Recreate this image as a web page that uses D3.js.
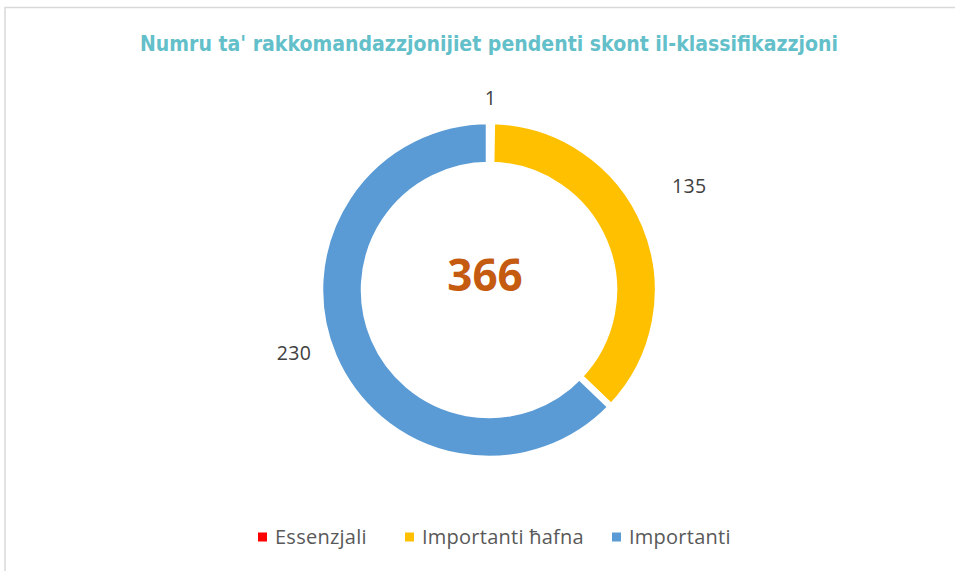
<!DOCTYPE html>
<html>
<head>
<meta charset="utf-8">
<script src="https://cdn.jsdelivr.net/npm/d3@7"></script>
<style>
  html, body { margin: 0; padding: 0; background: #fff; }
  svg { display: block; }
</style>
</head>
<body>
<div id="chart"></div>
<script>
'use strict';

// data
var categories = ["Essenzjali", "Importanti ħafna", "Importanti"];
var values = [1, 135, 230];
var colors = ["#ff0000", "#ffc000", "#5b9bd5"];
var title = "Numru ta' rakkomandazzjonijiet pendenti skont il-klassifikazzjoni";

// label placement (radius from centre per slice)
var labelR = [172, 217, 212];

var width = 955, height = 571;
var cx = 489, cy = 290;
var outerR = 169, innerR = 125;

var svg = d3.select("#chart").append("svg")
  .attr("width", width)
  .attr("height", height);

//frame
svg.append("path")
  .attr("d", "M5," + height + "V7.5H" + width)
  .attr("fill", "none")
  .attr("stroke", "#d9d9d9")
  .attr("stroke-width", 1.5);

//title
svg.append("text")
  .attr("x", 489)
  .attr("y", 51)
  .attr("text-anchor", "middle")
  .attr("font-family", "'Liberation Sans Narrow', 'DejaVu Sans Condensed', sans-serif")
  .attr("font-weight", "bold")
  .attr("font-size", 22)
  .attr("fill", "#63bfc9")
  .attr("textLength", 698)
  .attr("lengthAdjust", "spacingAndGlyphs")
  .text(title);

var pie = d3.pie().sort(null).value(function(d){ return d; });
var arc = d3.arc().innerRadius(innerR).outerRadius(outerR);
var arcs = pie(values);

var g = svg.append("g").attr("transform", "translate(" + cx + "," + cy + ")");

g.selectAll("path.slice")
  .data(arcs)
  .enter()
  .append("path")
  .attr("class", "slice")
  .attr("d", arc)
  .attr("fill", function(d, i){ return colors[i]; })
  .attr("stroke", "#fff")
  .attr("stroke-width", 6.5)
  .attr("stroke-linejoin", "miter");

//value labels
g.selectAll("text.lbl")
  .data(arcs)
  .enter()
  .append("text")
  .attr("class", "lbl")
  .attr("x", function(d, i){
    var a = (d.startAngle + d.endAngle) / 2;
    return labelR[i] * Math.sin(a);
  })
  .attr("y", function(d, i){
    var a = (d.startAngle + d.endAngle) / 2;
    return -labelR[i] * Math.cos(a) - 20;
  })
  .attr("dy", "0.35em")
  .attr("text-anchor", "middle")
  .attr("font-family", "'Open Sans', sans-serif")
  .attr("font-size", 19.5)
  .attr("letter-spacing", 0.4)
  .attr("fill", "#404040")
  .text(function(d){ return d.data; });

//total in the middle
g.append("text")
  .attr("x", -4)
  .attr("y", -14)
  .attr("dy", "0.35em")
  .attr("text-anchor", "middle")
  .attr("font-family", "'Open Sans', sans-serif")
  .attr("font-weight", "bold")
  .attr("font-size", 44)
  .attr("fill", "#c55a11")
  .text(d3.sum(values));

//legend
var legendX = [258, 405, 612];
var legend = svg.append("g").selectAll("g")
  .data(categories)
  .enter()
  .append("g")
  .attr("transform", function(d, i){ return "translate(" + legendX[i] + ",537)"; });

legend.append("rect")
  .attr("x", 0)
  .attr("y", -4.5)
  .attr("width", 9)
  .attr("height", 9)
  .attr("fill", function(d, i){ return colors[i]; });

legend.append("text")
  .attr("x", 17)
  .attr("dy", "0.35em")
  .attr("font-family", "'Open Sans', sans-serif")
  .attr("font-size", 20)
  .attr("letter-spacing", 0.25)
  .attr("fill", "#595959")
  .text(function(d){ return d; });
</script>
</body>
</html>
